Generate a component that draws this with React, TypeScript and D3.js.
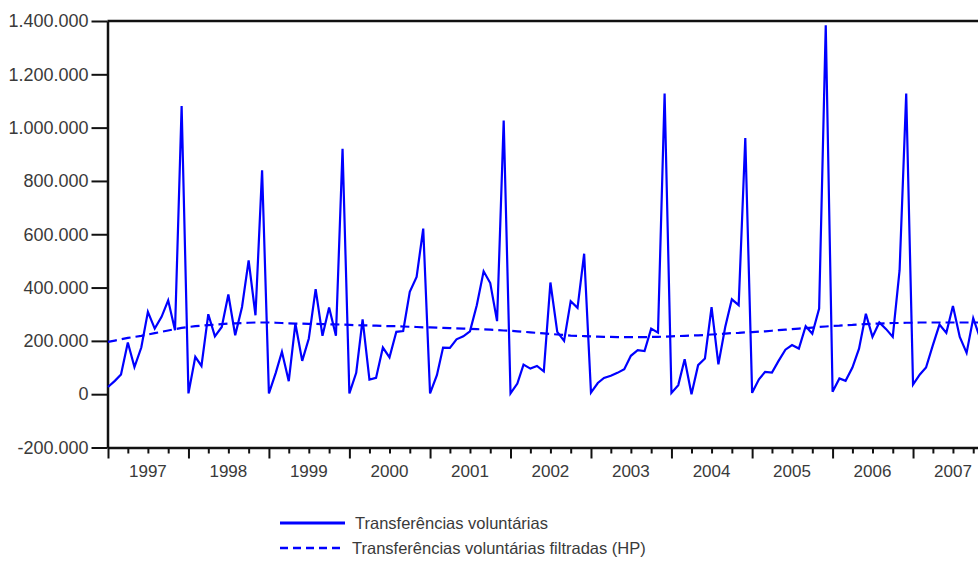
import React, { useEffect, useRef } from "react";
import * as d3 from "d3";

// monthly series, starting Jan 1997 (values in thousands)
const transferencias = [
  27, 50, 74, 194, 102, 175, 309, 246, 290, 352, 240, 1081,
  3, 140, 106, 300, 217, 252, 374, 221, 327, 502, 296, 840,
  3, 80, 159, 49, 265, 125, 209, 394, 219, 325, 219, 921,
  3, 80, 281, 55, 61, 175, 138, 234, 237, 384, 440, 621,
  3, 71, 175, 174, 206, 217, 236, 334, 461, 417, 274, 1027,
  3, 40, 111, 96, 106, 86, 419, 234, 200, 349, 324, 527,
  6, 42, 61, 69, 80, 94, 144, 165, 162, 246, 231, 1128,
  5, 34, 131, 0, 109, 134, 327, 112, 252, 356, 334, 961,
  5, 56, 84, 81, 125, 167, 184, 171, 255, 227, 321, 1384,
  9, 59, 50, 100, 171, 302, 215, 269, 244, 215, 465, 1128,
  36, 74, 100, 184, 261, 230, 331, 215, 155, 285, 210,
];

const filtradas = [
  196, 201, 206, 211, 215, 219, 224, 229, 234, 239, 244, 249,
  252, 255, 257, 259, 261, 263, 265, 266, 267, 268, 269, 269,
  269, 268, 267, 266, 265, 265, 264, 264, 263, 262, 262, 261,
  260, 259, 258, 258, 257, 256, 255, 255, 254, 253, 252, 251,
  251, 250, 249, 248, 247, 246, 245, 244, 243, 242, 241, 239,
  238, 236, 234, 232, 230, 228, 226, 224, 222, 220, 219, 218,
  217, 216, 215, 215, 214, 214, 214, 214, 214, 215, 215, 216,
  217, 218, 219, 220, 221, 222, 224, 225, 227, 229, 230, 232,
  233, 235, 236, 238, 240, 242, 244, 246, 248, 250, 252, 254,
  256, 257, 259, 260, 262, 263, 264, 265, 266, 267, 267, 268,
  268, 269, 269, 269, 269, 269, 269, 269, 269, 269, 269,
];

const yearLabels = ["1997", "1998", "1999", "2000", "2001", "2002", "2003", "2004", "2005", "2006", "2007"];
const yTicks = [-200000, 0, 200000, 400000, 600000, 800000, 1000000, 1200000, 1400000];
const legendLabels = ["Transferências voluntárias", "Transferências voluntárias filtradas (HP)"];

const FONT = "'Liberation Sans', Arial, sans-serif";
const BLUE = "#0000ff";
const TEXT = "#3a3a3a";

export default function App() {
  const svgRef = useRef<SVGSVGElement>(null);

  useEffect(() => {
    const svg = d3.select(svgRef.current);
    svg.selectAll("*").remove();

    const left = 107.5, top = 21, bottom = 447.5;

    const x = d3
      .scaleTime()
      .domain([new Date(1997, 0, 1), new Date(2008, 0, 1)])
      .range([108, 993.5]);
    const y = d3.scaleLinear().domain([-200000, 1400000]).range([bottom, top]);

    const pt = d3.formatLocale({
      decimal: ",",
      thousands: ".",
      grouping: [3],
      currency: ["R$", ""],
      minus: "-",
    });
    const fmt = pt.format(",d");

    // top border
    svg
      .append("line")
      .attr("x1", left)
      .attr("x2", 978)
      .attr("y1", top)
      .attr("y2", top)
      .attr("stroke", "#111")
      .attr("stroke-width", 2.5);

    // y axis
    const yAxis = svg
      .append("g")
      .attr("transform", `translate(${left},0)`)
      .call(d3.axisLeft(y).tickValues(yTicks).tickFormat((d: any) => fmt(d)).tickSize(16).tickSizeOuter(0).tickPadding(3));
    yAxis.select(".domain").attr("stroke", "#111").attr("stroke-width", 2.5);
    yAxis.selectAll(".tick line").attr("stroke", "#111").attr("stroke-width", 2);
    yAxis
      .selectAll(".tick text")
      .attr("font-family", FONT)
      .attr("font-size", 18)
      .attr("fill", TEXT);

    // x axis: quarter ticks, longer at each year
    const xAxis = svg
      .append("g")
      .attr("transform", `translate(0,${bottom})`)
      .call(d3.axisBottom(x).ticks(d3.timeMonth.every(3)).tickFormat(() => "").tickSizeOuter(0));
    xAxis.select(".domain").attr("stroke", "#111").attr("stroke-width", 2.5);
    xAxis
      .selectAll(".tick line")
      .attr("stroke", "#111")
      .attr("stroke-width", 2)
      .attr("y2", (d: any) => (d.getMonth() === 0 ? 11 : 6));

    svg
      .append("g")
      .selectAll("text")
      .data(yearLabels)
      .enter()
      .append("text")
      .attr("x", (d) => x(new Date(+d, 6, 1)))
      .attr("y", 477)
      .attr("text-anchor", "middle")
      .attr("font-family", FONT)
      .attr("font-size", 17)
      .attr("fill", TEXT)
      .text((d) => d);

    // lines
    const line = d3
      .line<number>()
      .x((d, i) => x(new Date(1997, i, 1)))
      .y((d) => y(d * 1000));

    svg
      .append("path")
      .datum(filtradas)
      .attr("d", line)
      .attr("fill", "none")
      .attr("stroke", BLUE)
      .attr("stroke-width", 2.2)
      .attr("stroke-dasharray", "9,5");

    svg
      .append("path")
      .datum(transferencias)
      .attr("d", line)
      .attr("fill", "none")
      .attr("stroke", BLUE)
      .attr("stroke-width", 2.2)
      .attr("stroke-linejoin", "miter");

    // legend
    const legend = svg.append("g");
    legendLabels.forEach((label, i) => {
      const ly = 523 + i * 25;
      legend
        .append("line")
        .attr("x1", 280)
        .attr("x2", 345)
        .attr("y1", ly)
        .attr("y2", ly)
        .attr("stroke", BLUE)
        .attr("stroke-width", i === 0 ? 2.8 : 2.4)
        .attr("stroke-dasharray", i === 0 ? null : "8,5");
      legend
        .append("text")
        .attr("x", i === 0 ? 355 : 352)
        .attr("y", ly + 6)
        .attr("font-family", FONT)
        .attr("font-size", 16.5)
        .attr("fill", TEXT)
        .text(label);
    });
  }, []);

  return (
    <svg
      ref={svgRef}
      width={978}
      height={565}
      style={{ position: "fixed", left: 0, top: 0, background: "#fff" }}
    />
  );
}
